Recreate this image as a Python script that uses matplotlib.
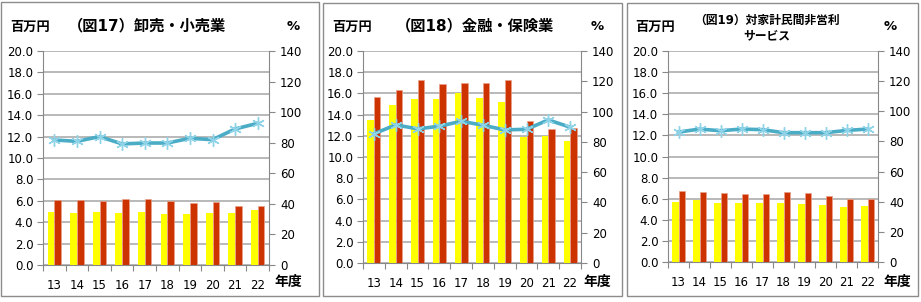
"""
図17〜19：業種別 2系列棒グラフ（左軸 百万円）＋ 比率折れ線（右軸 %）
"""

import numpy as np
import matplotlib.pyplot as plt
from matplotlib.patches import Rectangle

plt.rcParams['font.family'] = ['DejaVu Sans', 'Noto Sans CJK JP']

# ============================================================
# データ
# ============================================================

years = ['13', '14', '15', '16', '17', '18', '19', '20', '21', '22']

titles = ['（図17）卸売・小売業',
          '（図18）金融・保険業',
          '（図19）対家計民間非営利\nサービス']

# 図17 卸売・小売業
wr_bar_a = [5.0, 4.9, 5.0, 4.9, 5.0, 4.8, 4.8, 4.9, 4.9, 5.1]
wr_bar_b = [6.1, 6.1, 6.0, 6.2, 6.2, 6.0, 5.8, 5.9, 5.5, 5.5]
wr_rate  = [81.8, 80.9, 84.0, 79.2, 79.8, 79.8, 82.9, 82.0, 89.0, 92.7]

# 図18 金融・保険業
fi_bar_a = [13.5, 14.9, 15.5, 15.5, 16.0, 15.6, 15.2, 11.9, 12.0, 11.5]
fi_bar_b = [15.7, 16.3, 17.3, 16.9, 17.0, 17.0, 17.3, 13.4, 12.6, 12.7]
fi_rate  = [85.3, 91.2, 88.6, 90.3, 93.6, 91.0, 87.9, 88.3, 94.5, 89.7]

# 図19 対家計民間非営利サービス
np_bar_a = [5.7, 5.9, 5.6, 5.6, 5.6, 5.6, 5.5, 5.4, 5.2, 5.3]
np_bar_b = [6.7, 6.6, 6.5, 6.4, 6.4, 6.6, 6.5, 6.3, 6.0, 6.0]
np_rate  = [86.2, 88.2, 87.1, 88.2, 87.8, 85.8, 85.8, 85.8, 87.3, 88.2]

panels = [
    (wr_bar_a, wr_bar_b, wr_rate),
    (fi_bar_a, fi_bar_b, fi_rate),
    (np_bar_a, np_bar_b, np_rate),
]

# ============================================================
# レイアウト（ピクセル単位）
# ============================================================

W, H = 921, 302
ax_box = [(43, 269, 51, 265), (363, 581, 51, 263), (668, 878, 51, 262)]
frames = [(1, 319, 2, 296), (323, 622, 3, 296), (627, 918, 3, 296)]
unit_x = [30, 352, 655]
title_x = [147, 475, 767]
pct_x = [293, 597, 890]
nendo_x = [288, 597, 897]

C_YEL = '#FFFF00'
C_RED = '#CC3300'
C_LINE = '#4BACC6'
C_MARK = '#8FD3E8'
C_GRID = '#A6A6A6'

def fx(px):
    return px / W

def fy(py):
    return 1 - py / H

fig = plt.figure(figsize=(W / 100, H / 100), dpi=100)

for i, (bar_a, bar_b, rate) in enumerate(panels):
    l, r, t, b = ax_box[i]
    ax = fig.add_axes([fx(l), fy(b), fx(r - l), (b - t) / H])
    x = np.arange(len(years))

    ax.bar(x - 0.15, bar_a, width=0.3, color=C_YEL, zorder=3)
    ax.bar(x + 0.15, bar_b, width=0.3, color=C_RED, edgecolor='#E8A08A',
           linewidth=0.5, zorder=3)

    ax.set_xlim(-0.5, len(years) - 0.5)
    ax.set_ylim(0, 20)
    ax.set_yticks(np.arange(0, 20.1, 2))
    ax.set_yticklabels([f'{v:.1f}' for v in np.arange(0, 20.1, 2)])
    ax.yaxis.grid(True, color=C_GRID, linewidth=1.1, zorder=0)
    ax.set_axisbelow(True)

    # 目盛りは区切り位置、ラベルは中央
    ax.set_xticks(np.arange(-0.5, len(years), 1))
    ax.set_xticklabels([])
    ax.set_xticks(x, minor=True)
    ax.set_xticklabels(years, minor=True)
    ax.tick_params(axis='x', which='major', length=4, color='#888888')
    ax.tick_params(axis='x', which='minor', length=0, pad=10, labelsize=8.5)
    ax.tick_params(axis='y', length=4, color='#888888', labelsize=8.5, pad=3)

    for s in ['top', 'right']:
        ax.spines[s].set_visible(False)
    for s in ['left', 'bottom']:
        ax.spines[s].set_color('#888888')

    ax2 = ax.twinx()
    ax2.plot(x, rate, color=C_LINE, linewidth=2.6, zorder=4,
             marker=(6, 2, 0), markersize=9, markeredgecolor=C_MARK,
             markeredgewidth=1.0)
    ax2.set_ylim(0, 140)
    ax2.set_yticks(np.arange(0, 141, 20))
    ax2.tick_params(axis='y', length=4, color='#888888', labelsize=8.5, pad=4)
    for s in ['top', 'left', 'bottom']:
        ax2.spines[s].set_visible(False)
    ax2.spines['right'].set_color('#888888')

    # テキスト
    fig.text(fx(unit_x[i]), fy(27), '百万円', ha='center', va='center',
             fontsize=9.5, fontweight='bold')
    if i < 2:
        fig.text(fx(title_x[i]), fy(26), titles[i], ha='center', va='center',
                 fontsize=11, fontweight='bold')
    else:
        fig.text(fx(title_x[i]), fy(28), titles[i], ha='center', va='center',
                 fontsize=8.5, fontweight='bold', linespacing=1.15)
    fig.text(fx(pct_x[i]), fy(26), '%', ha='center', va='center',
             fontsize=9.5, fontweight='bold')
    fig.text(fx(nendo_x[i]), fy(282), '年度', ha='center', va='center',
             fontsize=10, fontweight='bold')

    # 枠線
    fl, fr, ft, fb = frames[i]
    fig.add_artist(Rectangle((fx(fl), fy(fb)), fx(fr - fl), (fb - ft) / H,
                             transform=fig.transFigure, fill=False,
                             edgecolor='#8C8C8C', linewidth=1.0))

plt.savefig('out.png', dpi=100)
